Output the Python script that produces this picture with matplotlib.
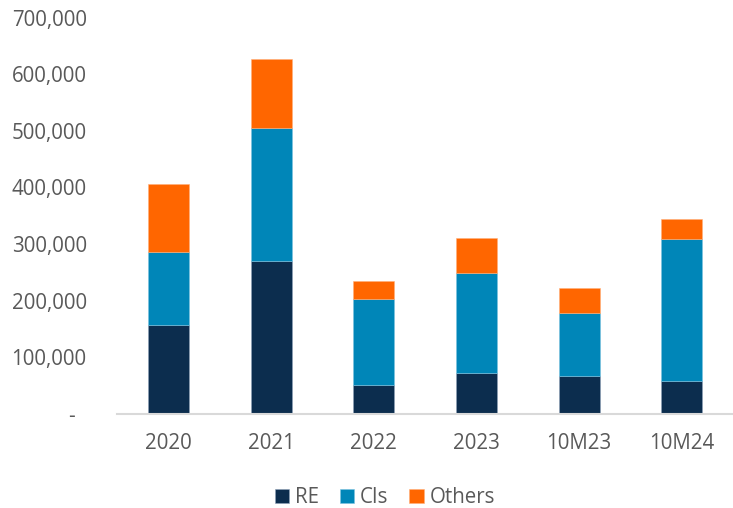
import numpy as np
import matplotlib.pyplot as plt
from matplotlib.ticker import FuncFormatter

plt.rcParams['font.family'] = ['Open Sans', 'DejaVu Sans']

# --- data ---
periods = ['2020', '2021', '2022', '2023', '10M23', '10M24']
re_vals = [156000, 270000, 51000, 72000, 67000, 58000]
ci_vals = [130000, 235000, 151000, 176000, 111000, 250000]
other_vals = [120000, 123000, 33000, 62000, 44000, 36000]

col_re = '#0C2D4E'
col_ci = '#0086B8'
col_other = '#FF6600'
txt = '#595959'

fig = plt.figure(figsize=(7.33, 5.08), dpi=100)
ax = fig.add_axes([0.16, 0.186, 0.84, 0.7786])

x = np.arange(len(periods))
re = np.array(re_vals)
ci = np.array(ci_vals)
ot = np.array(other_vals)
w = 0.4
ax.bar(x, re, w, color=col_re, label='RE', edgecolor='#8fa3b8', linewidth=0.4)
ax.bar(x, ci, w, bottom=re, color=col_ci, label='CIs', edgecolor='#7cc3e0', linewidth=0.4)
ax.bar(x, ot, w, bottom=re + ci, color=col_other, label='Others', edgecolor='#ffb07a', linewidth=0.4)

ax.set_xlim(-0.5, len(periods) - 0.5)
ax.set_ylim(0, 700000)
ax.set_yticks(np.arange(0, 700001, 100000))
# accounting style: zero shown as a dash
ax.yaxis.set_major_formatter(FuncFormatter(lambda v, p: '-  ' if v == 0 else f'{int(v):,}'))
ax.set_xticks(x)
ax.set_xticklabels(periods)

for s in ['top', 'right', 'left']:
    ax.spines[s].set_visible(False)
ax.spines['bottom'].set_color('#D9D9D9')
ax.spines['bottom'].set_linewidth(1.5)
ax.tick_params(axis='both', length=0, labelsize=14.8, colors=txt)
ax.tick_params(axis='y', pad=22)
ax.tick_params(axis='x', pad=14)

leg = fig.legend(loc='center', bbox_to_anchor=(0.525, 0.02), ncol=3, frameon=False,
                 fontsize=14.8, handlelength=0.7, handleheight=0.7,
                 handletextpad=0.3, columnspacing=1.0)
for t in leg.get_texts():
    t.set_color(txt)

fig.savefig('out.png', dpi=100)
